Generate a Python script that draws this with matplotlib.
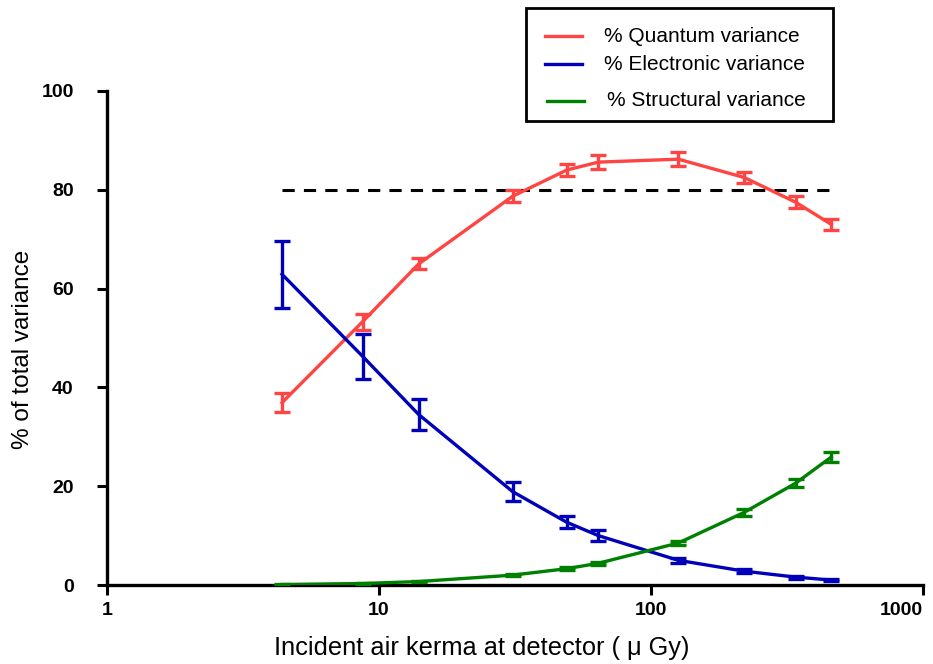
import matplotlib
matplotlib.use("Agg")
import matplotlib.pyplot as plt
from matplotlib.lines import Line2D
from matplotlib.patches import Rectangle

# Incident air kerma (uGy) and variance fractions (%)
kerma = [4.4, 8.7, 14, 31, 49, 64, 126, 220, 340, 460]
quantum = [36.9, 53.3, 65.0, 78.7, 84.0, 85.6, 86.2, 82.5, 77.5, 73.0]
quantum_err = [1.9, 1.6, 1.1, 1.2, 1.2, 1.4, 1.4, 1.2, 1.2, 1.1]
electronic = [62.9, 46.3, 34.5, 18.9, 12.7, 10.0, 5.0, 2.8, 1.6, 1.0]
electronic_err = [6.8, 4.5, 3.1, 1.9, 1.2, 1.1, 0.5, 0.4, 0.3, 0.2]
structural = [0.1, 0.3, 0.7, 2.0, 3.3, 4.4, 8.5, 14.7, 20.6, 25.9]
structural_err = [0.1, 0.1, 0.1, 0.2, 0.3, 0.3, 0.4, 0.7, 0.8, 1.0]
threshold = 80

labels = ["% Quantum variance", "% Electronic variance", "% Structural variance"]
colors = ["#FF4444", "#0000BB", "#008000"]
xticks = [1, 10, 100, 1000]
yticks = [0, 20, 40, 60, 80, 100]

plt.rcParams['font.family'] = ['Liberation Sans', 'DejaVu Sans']

W, H = 933, 664
fig = plt.figure(figsize=(W / 100, H / 100), dpi=100)
ax = fig.add_axes([107 / W, 1 - 585 / H, (923 - 107) / W, (585 - 91) / H])

for y, e, c in zip([quantum, electronic, structural],
                   [quantum_err, electronic_err, structural_err], colors):
    ax.errorbar(kerma, y, yerr=e, color=c, lw=2.4, elinewidth=2.4,
                capsize=6, capthick=2.4, zorder=3)

ax.plot([kerma[0], kerma[-1]], [threshold, threshold], color="black",
        lw=2.2, ls=(0, (4, 3)), zorder=2)

ax.set_xscale("log")
ax.set_xlim(xticks[0], xticks[-1])
ax.set_ylim(yticks[0], yticks[-1])
ax.set_xticks(xticks)
ax.set_xticklabels([str(v) for v in xticks])
ax.set_yticks(yticks)
ax.minorticks_off()

for s in ["top", "right"]:
    ax.spines[s].set_visible(False)
for s in ["left", "bottom"]:
    ax.spines[s].set_linewidth(2.4)
ax.tick_params(axis="both", direction="out", length=7, width=2.2, labelsize=14)
ax.tick_params(axis="x", pad=5)
ax.tick_params(axis="y", pad=17)
for t in ax.get_xticklabels() + ax.get_yticklabels():
    t.set_fontweight("bold")
ax.get_xticklabels()[-1].set_horizontalalignment("right")
ax.get_xticklabels()[-1].set_x(xticks[-1] * 1.1)

ax.set_xlabel("Incident air kerma at detector ( \u03bc Gy)", fontsize=18.3)
ax.set_ylabel("% of total variance", fontsize=17.5)
ax.xaxis.set_label_coords(0.459, -0.103)
ax.yaxis.set_label_coords(-0.089, 0.476)

# Legend box placed above the plot area
fig.patches.append(Rectangle((526 / W, 1 - 121 / H), (833 - 526) / W,
                             (121 - 8) / H, transform=fig.transFigure,
                             fill=False, edgecolor="black", lw=2))
rows = [36, 64, 101]
line_x = [(545, 582), (545, 582), (547, 584)]
text_x = [604, 604, 607]
for lab, c, ry, (x0, x1), tx in zip(labels, colors, rows, line_x, text_x):
    fig.lines.append(Line2D([x0 / W, x1 / W], [1 - ry / H, 1 - ry / H],
                            transform=fig.transFigure, color=c, lw=2.4))
    fig.text(tx / W, 1 - ry / H, lab, fontsize=15, va="center", ha="left")

fig.savefig("out.png", dpi=100)
